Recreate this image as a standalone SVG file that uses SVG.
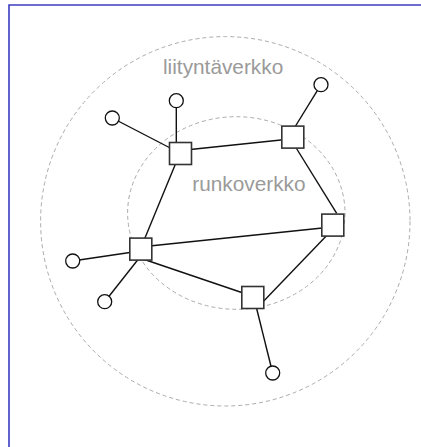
<svg xmlns="http://www.w3.org/2000/svg" width="421" height="447" viewBox="0 0 421 447">
<style>
.frame{stroke:#3c3cc4;stroke-width:1.6;fill:none}
.zone{fill:none;stroke:#aaaaaa;stroke-width:1;stroke-dasharray:4 3}
.lbl{font-family:"Liberation Sans",Arial,sans-serif;font-size:20.8px;fill:#9a9a9a}
.link{stroke:#111;stroke-width:1.4;fill:none}
.sw{fill:#fff;stroke:#333;stroke-width:1.6}
.host{fill:#fff;stroke:#111;stroke-width:1.3}
</style>
<rect width="421" height="447" fill="#fff"/>
<path class="frame" d="M9,447 V5 H421"/>
<g id="zones">
<circle class="zone" cx="225.3" cy="221.3" r="184.7"/>
<ellipse class="zone" cx="236.3" cy="213" rx="108.7" ry="96.3"/>
<text class="lbl" x="163" y="74">liityntäverkko</text>
<text class="lbl" x="192.3" y="191">runkoverkko</text>
</g>
<g id="connectors">
<line class="link" x1="112.3" y1="118" x2="176" y2="151"/>
<line class="link" x1="176.3" y1="100.7" x2="176.3" y2="150"/>
<line class="link" x1="176" y1="151" x2="288" y2="139.3"/>
<line class="link" x1="180" y1="153" x2="140" y2="250"/>
<line class="link" x1="321" y1="84.7" x2="290" y2="135"/>
<line class="link" x1="290" y1="138" x2="336.7" y2="213.3"/>
<line class="link" x1="140" y1="247" x2="332" y2="227"/>
<line class="link" x1="332" y1="230" x2="258" y2="307"/>
<line class="link" x1="140" y1="258" x2="252" y2="296"/>
<line class="link" x1="72.3" y1="261" x2="140" y2="251"/>
<line class="link" x1="104.7" y1="301.7" x2="140" y2="257"/>
<line class="link" x1="254" y1="298" x2="272.7" y2="373"/>
</g>
<g id="A"><rect class="sw" x="169.5" y="142.5" width="22" height="22"/></g>
<g id="B"><rect class="sw" x="281.8" y="126.1" width="22" height="22"/></g>
<g id="C"><rect class="sw" x="321.8" y="214.1" width="22" height="22"/></g>
<g id="D"><rect class="sw" x="129.8" y="238.1" width="22" height="22"/></g>
<g id="E"><rect class="sw" x="241.8" y="286.5" width="22" height="22"/></g>
<g id="h1"><circle class="host" cx="112.3" cy="118" r="7"/></g>
<g id="h2"><circle class="host" cx="176.3" cy="100.7" r="7"/></g>
<g id="h3"><circle class="host" cx="321" cy="84.7" r="7"/></g>
<g id="h4"><circle class="host" cx="72.7" cy="261" r="7"/></g>
<g id="h5"><circle class="host" cx="104.7" cy="301.7" r="7"/></g>
<g id="h6"><circle class="host" cx="272.7" cy="373" r="7"/></g>
</svg>
